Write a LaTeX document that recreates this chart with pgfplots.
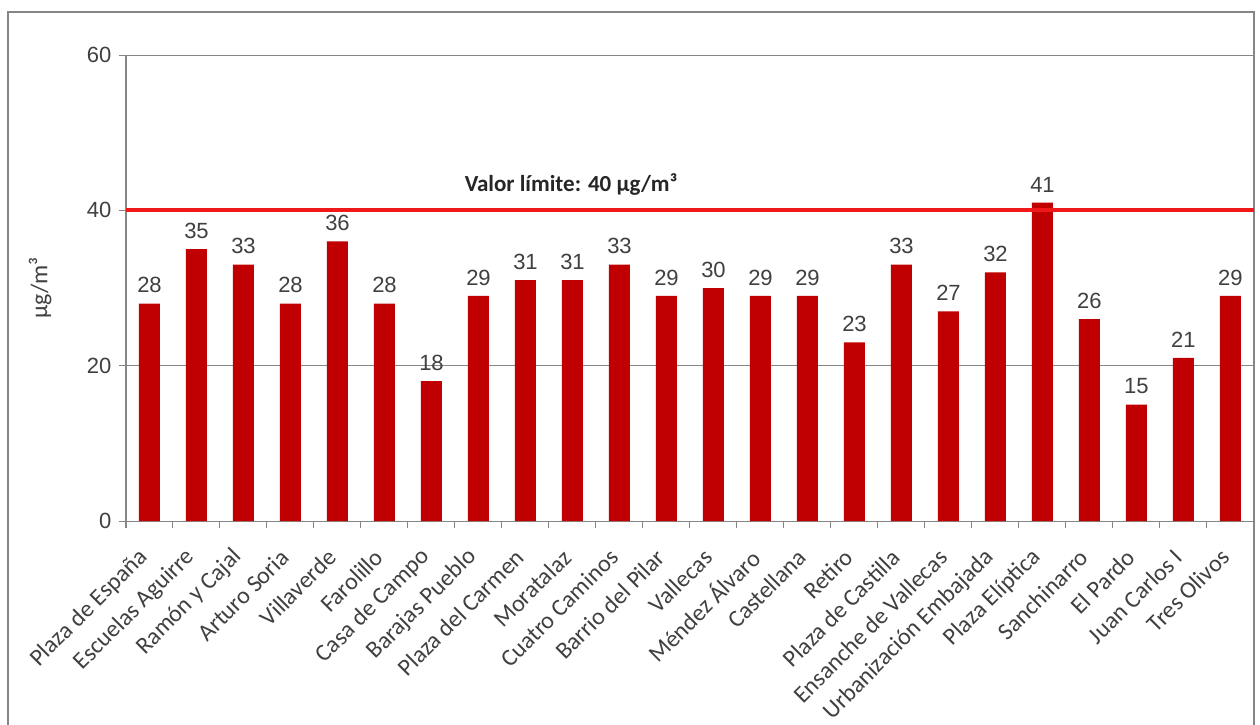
\documentclass[border=0pt]{standalone}
\usepackage{fontspec}
\setmainfont{Liberation Sans}
\newfontfamily\calfont{Carlito}
\usepackage{pgfplots}
\usepackage{pgfplotstable}
\pgfplotsset{compat=1.18}
\definecolor{barred}{RGB}{192,0,0}
\definecolor{limred}{RGB}{240,24,24}
\definecolor{txt}{RGB}{64,64,64}
\definecolor{axgray}{RGB}{134,134,134}
\pgfplotstableread{
x y
0 28
1 35
2 33
3 28
4 36
5 28
6 18
7 29
8 31
9 31
10 33
11 29
12 30
13 29
14 29
15 23
16 33
17 27
18 32
19 41
20 26
21 15
22 21
23 29
}\datatable
\begin{document}
\begin{tikzpicture}[x=1pt,y=1pt]
\useasboundingbox (0,0) rectangle (1260,724);
\fill[white] (0,0) rectangle (1260,724);
\draw[axgray, line width=1.2pt] (8,-2) -- (8,712) -- (1254,712) -- (1254,-2);
\begin{axis}[
  at={(126pt,203pt)}, anchor=south west,
  scale only axis, width=1128pt, height=466pt,
  xmin=-0.5, xmax=23.5, ymin=0, ymax=60,
  axis x line*=bottom, axis y line*=left,
  axis line style={axgray, line width=1pt},
  ybar, bar width=21pt,
  ytick={0,20,40,60},
  ymajorgrids, major grid style={axgray, line width=0.9pt},
  xtick={-0.5,0.5,...,23.5}, xticklabels={},
  xticklabel style={text opacity=0},
  extra x ticks={0,1,...,23},
  extra x tick labels={Plaza de España,Escuelas Aguirre,Ramón y Cajal,Arturo Soria,Villaverde,Farolillo,Casa de Campo,Barajas Pueblo,Plaza del Carmen,Moratalaz,Cuatro Caminos,Barrio del Pilar,Vallecas,Méndez Álvaro,Castellana,Retiro,Plaza de Castilla,Ensanche de Vallecas,Urbanización Embajada,Plaza Elíptica,Sanchinarro,El Pardo,Juan Carlos I,Tres Olivos},
  extra x tick style={major tick length=0pt, xticklabel style={text opacity=1, font=\calfont\fontsize{24}{24}\selectfont, text=txt, yshift=-30pt, xshift=-3pt, rotate=45, anchor=east}},
  tick align=outside, major tick length=7pt,
  tick style={axgray, line width=1pt},
  yticklabel style={font=\fontsize{22}{22}\selectfont, text=txt, xshift=-4pt},
  /pgf/number format/assume math mode=true,
  ylabel={µg/m³},
  ylabel style={font=\calfont\fontsize{24}{24}\selectfont, text=txt, at={(axis description cs:-0.076,0.5)}, anchor=center},
  clip=false,
]
\addplot[fill=barred, draw=none, nodes near coords,
  every node near coord/.append style={font=\fontsize{22}{22}\selectfont, text=txt, yshift=7pt}]
  table[x=x, y=y] {\datatable};
\addplot[sharp plot, limred, line width=4pt, forget plot] coordinates {(-0.5,40) (23.5,40)};
\node[font=\calfont\bfseries\fontsize{23}{23}\selectfont, text=black!85] at (axis cs:8.97,43.3) {Valor límite: 40 µg/m³};
\end{axis}
\end{tikzpicture}
\end{document}
